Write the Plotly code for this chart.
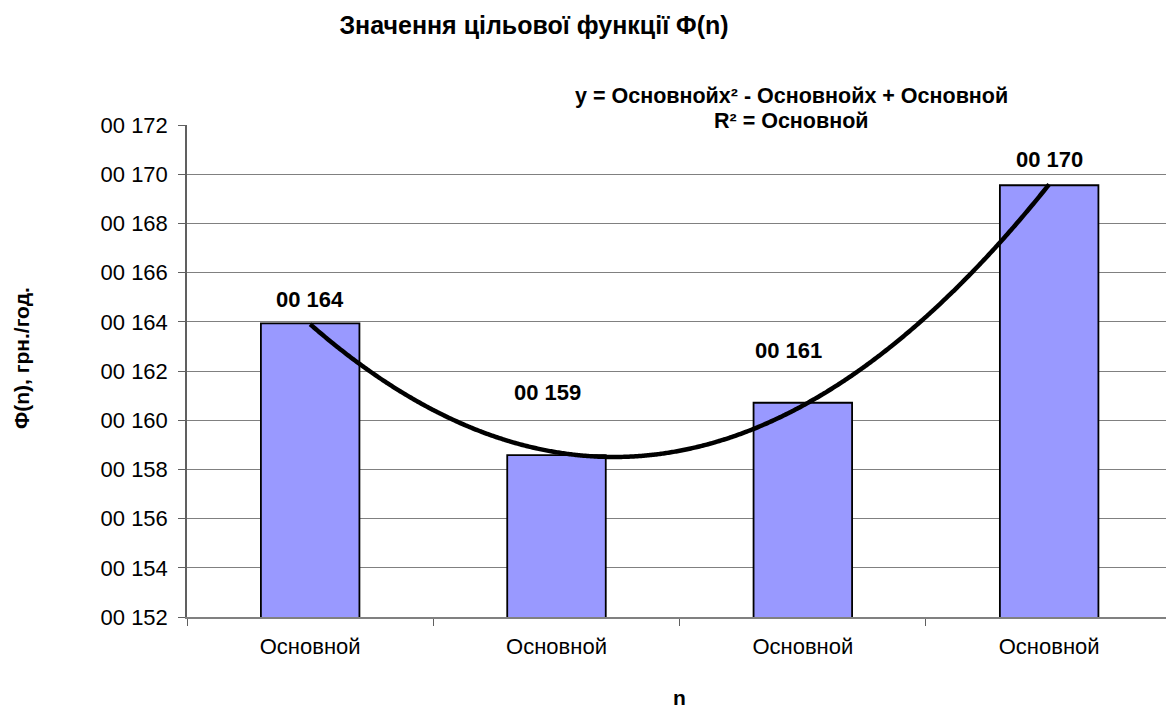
import numpy as np
import plotly.graph_objects as go

# Objective function values for each variant
categories = ["Основной", "Основной", "Основной", "Основной"]
values = [163.94, 158.58, 160.71, 169.55]
value_labels = ["00 164", "00 159", "00 161", "00 170"]
y_ticks = [152, 154, 156, 158, 160, 162, 164, 166, 168, 170, 172]
y_tick_labels = ["00 %d" % v for v in y_ticks]

title_text = "Значення цільової функції Φ(n)"
y_title = "Φ(n), грн./год."
x_title = "n"
trend_lines = ["y = Основнойx² - Основнойx + Основной", "R² = Основной"]

W, H = 1166, 709
ML, MR, MT, MB = 187, 0, 125, 92
PW, PH = W - ML - MR, H - MT - MB
FONT = "Liberation Sans, Arial, sans-serif"


def px_x(px):
    return (px - ML) / PW


def px_y(py):
    return (H - MB - py) / PH


xs = np.arange(len(values))

# second-order polynomial trend line
coef = np.polyfit(xs, values, 2)
xt = np.linspace(0, len(values) - 1, 300)
yt = np.polyval(coef, xt)

fig = go.Figure()
fig.add_trace(go.Bar(
    x=xs, y=values, width=0.4,
    marker=dict(color="#9999FF", line=dict(color="black", width=1.8)),
    showlegend=False, hoverinfo="skip",
))
fig.add_trace(go.Scatter(
    x=xt, y=yt, mode="lines",
    line=dict(color="black", width=4.5, shape="spline"),
    showlegend=False, hoverinfo="skip",
))

# data labels above the bars
label_yshift = [9, 48, 38, 11]
label_xshift = [0, -9, -14, 0]
annotations = []
for i, (v, t) in enumerate(zip(values, value_labels)):
    annotations.append(dict(
        x=i, y=v, xref="x", yref="y", text="<b>%s</b>" % t, showarrow=False,
        yanchor="bottom", xanchor="center", yshift=label_yshift[i], xshift=label_xshift[i],
        font=dict(family=FONT, size=22, color="black"),
    ))

# trend line equation
for t, py in zip(trend_lines, [96, 121]):
    annotations.append(dict(
        x=px_x(791), y=px_y(py), xref="paper", yref="paper", text="<b>%s</b>" % t,
        showarrow=False, xanchor="center", yanchor="middle",
        font=dict(family=FONT, size=21.5, color="black"),
    ))
# axis titles
annotations.append(dict(
    x=px_x(21), y=px_y(358), xref="paper", yref="paper", text="<b>%s</b>" % y_title,
    showarrow=False, xanchor="center", yanchor="middle", textangle=-90,
    font=dict(family=FONT, size=21, color="black"),
))
annotations.append(dict(
    x=px_x(679), y=px_y(697), xref="paper", yref="paper", text="<b>%s</b>" % x_title,
    showarrow=False, xanchor="center", yanchor="middle",
    font=dict(family=FONT, size=21, color="black"),
))

x_right = -0.5 + PW / 246.33

fig.update_layout(
    width=W, height=H,
    margin=dict(l=ML, r=MR, t=MT, b=MB, pad=0),
    paper_bgcolor="white", plot_bgcolor="white",
    title=dict(
        text="<b>%s</b>" % title_text, x=534 / W, y=1 - 25 / H,
        xanchor="center", yanchor="middle", xref="container", yref="container",
        font=dict(family=FONT, size=25, color="black"),
    ),
    annotations=annotations,
    xaxis=dict(
        range=[-0.5, x_right], tickvals=list(xs), ticktext=categories,
        ticks="", showgrid=False, zeroline=False,
        showline=True, linecolor="#808080", linewidth=1.5,
        tickfont=dict(family=FONT, size=22, color="black"),
        ticklabelstandoff=9,
        minor=dict(tickvals=[-0.5, 0.5, 1.5, 2.5, 3.5], ticks="outside", ticklen=7,
                   tickwidth=1.2, tickcolor="#606060", showgrid=False),
    ),
    yaxis=dict(
        range=[152, 172], tickvals=y_ticks, ticktext=y_tick_labels,
        ticks="outside", ticklen=7, tickwidth=1.2, tickcolor="#606060",
        showgrid=True, gridcolor="#808080", gridwidth=1,
        zeroline=False, showline=True, linecolor="#606060", linewidth=1.5,
        tickfont=dict(family=FONT, size=22, color="black"),
        ticklabelstandoff=6,
    ),
)

fig.write_html("out.html")
